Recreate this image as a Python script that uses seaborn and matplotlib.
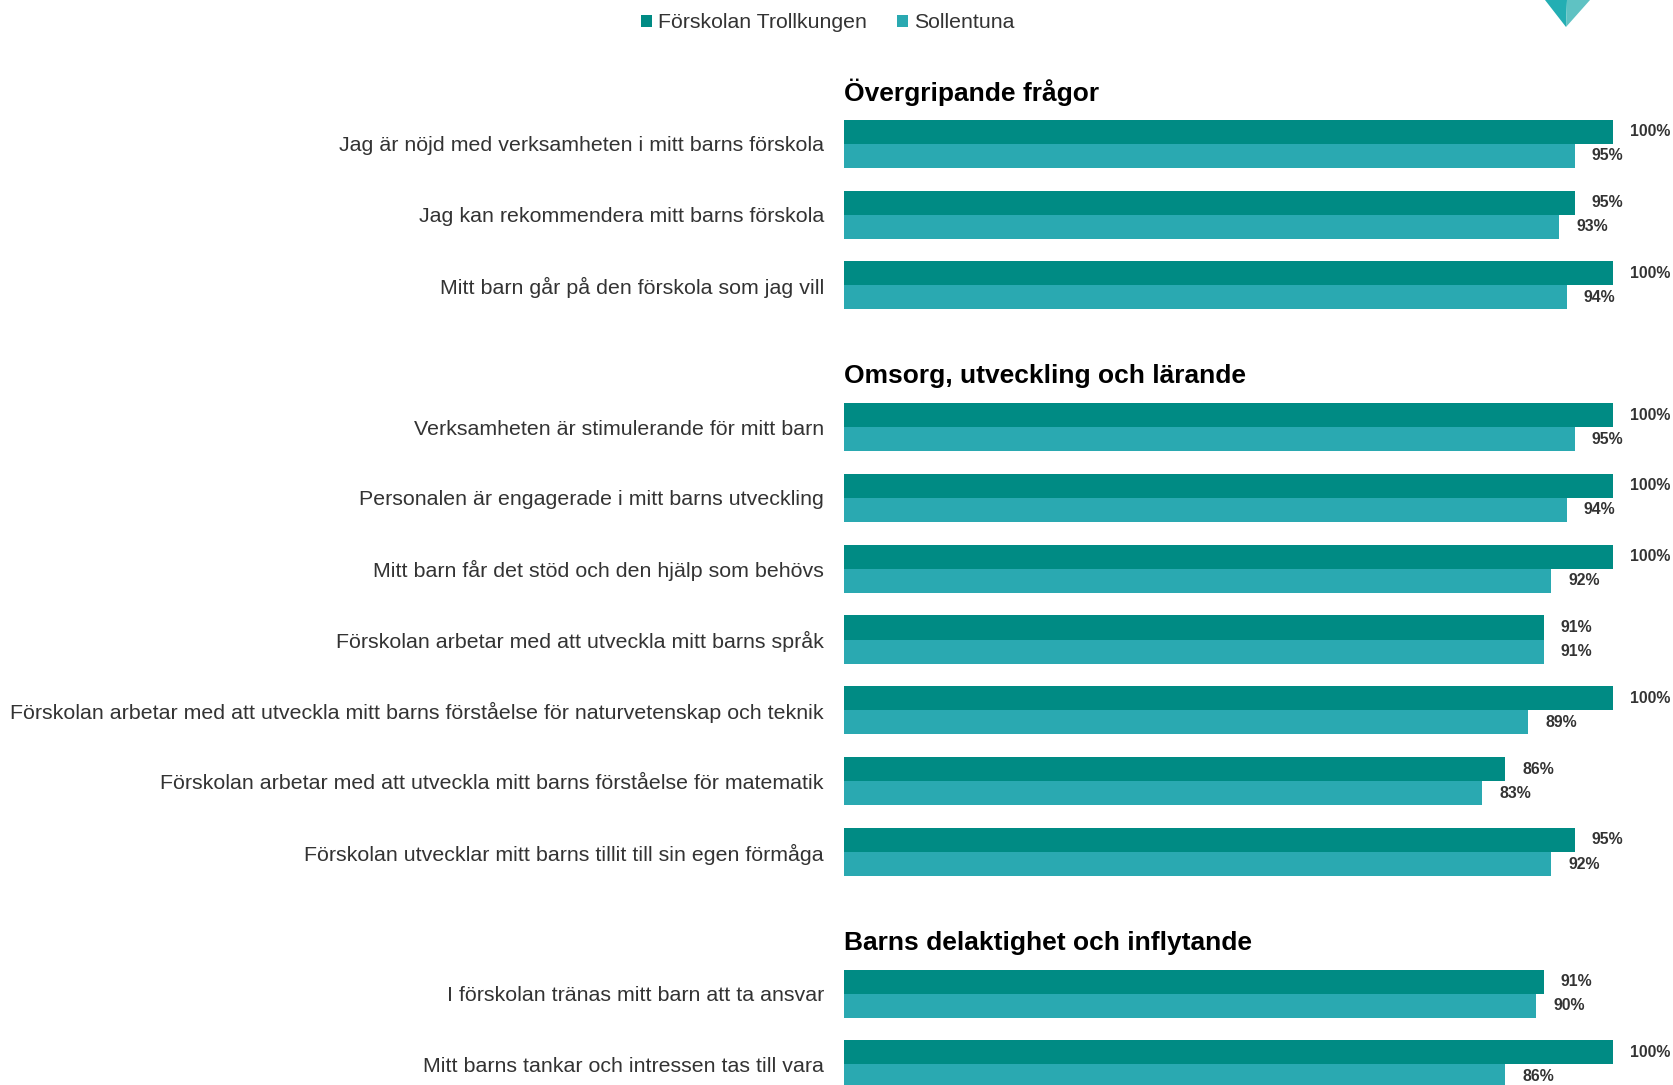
import seaborn as sns
import matplotlib.pyplot as plt
from matplotlib.patches import Patch, Polygon
import pandas as pd

# data
questions = [
    "Jag är nöjd med verksamheten i mitt barns förskola",
    "Jag kan rekommendera mitt barns förskola",
    "Mitt barn går på den förskola som jag vill",
    "Verksamheten är stimulerande för mitt barn",
    "Personalen är engagerade i mitt barns utveckling",
    "Mitt barn får det stöd och den hjälp som behövs",
    "Förskolan arbetar med att utveckla mitt barns språk",
    "Förskolan arbetar med att utveckla mitt barns förståelse för naturvetenskap och teknik",
    "Förskolan arbetar med att utveckla mitt barns förståelse för matematik",
    "Förskolan utvecklar mitt barns tillit till sin egen förmåga",
    "I förskolan tränas mitt barn att ta ansvar",
    "Mitt barns tankar och intressen tas till vara",
]
trollkungen = [100, 95, 100, 100, 100, 100, 91, 100, 86, 95, 91, 100]
sollentuna = [95, 93, 94, 95, 94, 92, 91, 89, 83, 92, 90, 86]
sections = ["Övergripande frågor", "Omsorg, utveckling och lärande",
            "Barns delaktighet och inflytande"]
section_sizes = [3, 7, 2]
series = ["Förskolan Trollkungen", "Sollentuna"]

# row positions: one empty slot before each new section (for the heading)
positions = []
header_pos = []
p = 0
for i, n in enumerate(section_sizes):
    if i > 0:
        p += 1
    header_pos.append(p - 0.72)
    positions.extend(range(p, p + n))
    p += n

df = pd.DataFrame({
    "pos": positions * 2,
    "value": trollkungen + sollentuna,
    "series": [series[0]] * len(questions) + [series[1]] * len(questions),
})

dark = "#008B84"
light = "#2AA9B1"
text_col = "#333333"

sns.set_theme(style="white")
plt.rcParams["font.family"] = ["Liberation Sans", "DejaVu Sans"]

fig = plt.figure(figsize=(16.74, 10.85), dpi=100)
ax = fig.add_axes([844 / 1674, 0, 830 / 1674, 1])

sns.barplot(data=df, x="value", y="pos", hue="series", orient="h",
            native_scale=True, width=0.68, palette=[dark, light],
            hue_order=series, ax=ax, legend=False, saturation=1,
            linewidth=0)

ax.set_xlim(0, 830 / 769 * 100)
ax.set_ylim(13.29, -2.03)
for s in ax.spines.values():
    s.set_visible(False)
ax.set_xticks([])
ax.set_xlabel("")
ax.set_ylabel("")
ax.set_yticks(positions)
ax.set_yticklabels(questions, fontsize=15.4, color=text_col)
ax.tick_params(axis="y", length=0, pad=14.5)

# value labels
off = 17 / 769 * 100
lab_font = ["Liberation Sans Narrow", "Liberation Sans", "DejaVu Sans"]
for y, a, b in zip(positions, trollkungen, sollentuna):
    ax.text(a + off, y - 0.17, f"{a}%", ha="left", va="center",
            fontsize=11.4, fontweight="bold", color=text_col, family=lab_font)
    ax.text(b + off, y + 0.17, f"{b}%", ha="left", va="center",
            fontsize=11.4, fontweight="bold", color=text_col, family=lab_font)

# section headings
for name, y in zip(sections, header_pos):
    ax.text(0, y, name, ha="left", va="center", fontsize=19,
            fontweight="bold", color="black")

# legend
handles = [Patch(facecolor=dark, edgecolor="none"),
           Patch(facecolor=light, edgecolor="none")]
fig.legend(handles, series, loc="center", bbox_to_anchor=(0.4945, 0.979),
           ncol=2, frameon=False, fontsize=15.3, handlelength=0.5,
           handleheight=0.5, handletextpad=0.3, columnspacing=1.4,
           labelcolor=text_col)

# logo fragment in the top-right corner
W, H = 1674, 1085
fig.patches.append(Polygon([(1545 / W, 1), (1567 / W, 1), (1566 / W, 1 - 27 / H)],
                           closed=True, transform=fig.transFigure,
                           facecolor="#23AEB3", edgecolor="none"))
fig.patches.append(Polygon([(1567 / W, 1), (1590 / W, 1), (1566 / W, 1 - 27 / H)],
                           closed=True, transform=fig.transFigure,
                           facecolor="#5FC2C3", edgecolor="none"))

fig.savefig("out.png", dpi=100)
